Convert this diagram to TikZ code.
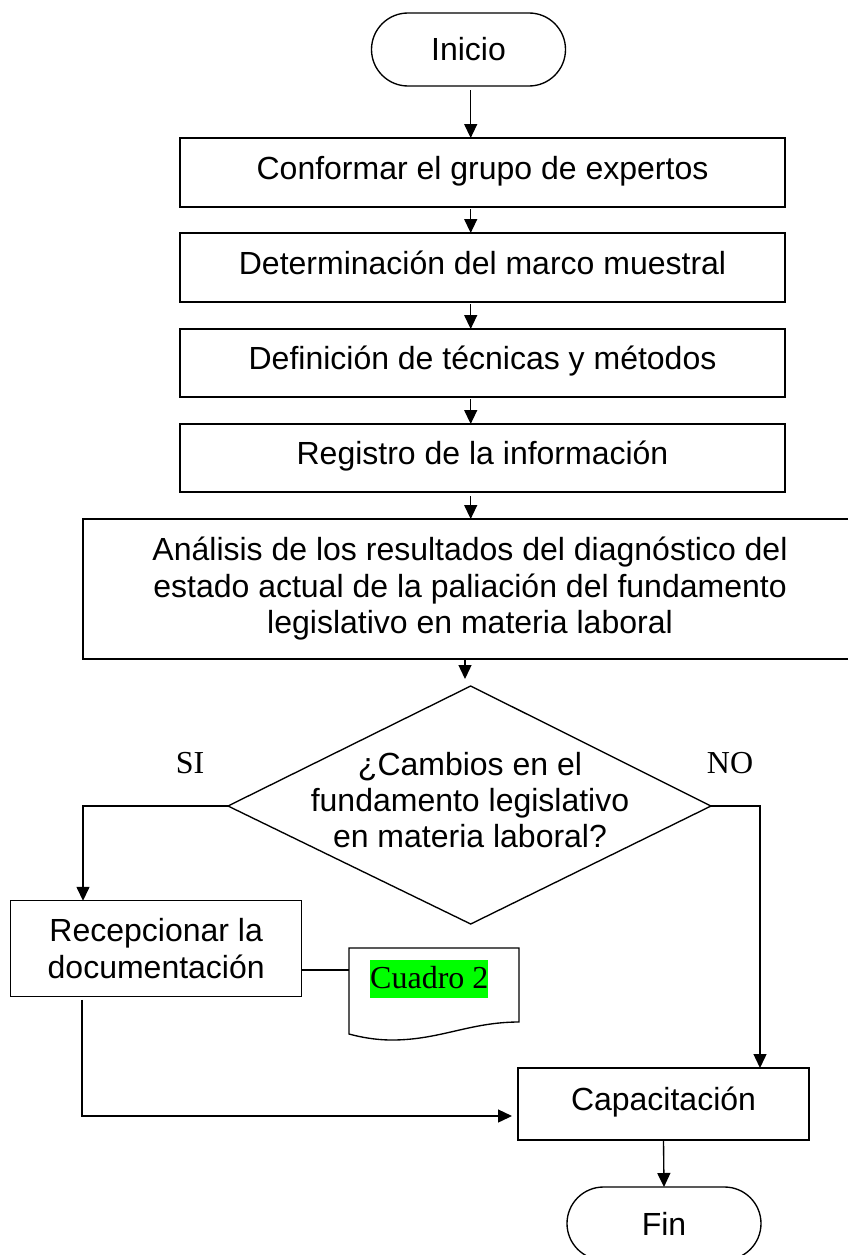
\documentclass[tikz,border=0pt]{standalone}
\usepackage{fontspec}
\setmainfont{Liberation Sans}
\newfontfamily\tnr{Liberation Serif}
\usetikzlibrary{arrows.meta}
\definecolor{hlgreen}{RGB}{0,255,0}
\begin{document}
\begin{tikzpicture}[x=1pt,y=-1pt,
  lw/.style={line width=1.35pt},
  box/.style={draw, lw, rectangle, inner sep=0pt, outer sep=0pt, align=center, font=\fontsize{32}{36.5}\selectfont},
  one/.style={text height=20pt, text depth=7pt},
  term/.style={box, rounded corners=36.5pt, minimum width=194pt, minimum height=73pt},
  arr/.style={lw, -{Triangle[length=14pt,width=13pt]}},
  lab/.style={font=\tnr\fontsize{32}{36}\selectfont, inner sep=0pt, anchor=base},
]
\useasboundingbox (0,0) rectangle (848,1255);
\fill[white] (0,0) rectangle (848,1255);
\coordinate (ax) at (470.7,0);
\coordinate (ax2) at (465,0);
\node[term] (inicio) at (468.5,49.5) {Inicio};
\node[box,one,minimum width=605pt,minimum height=69pt] (b1) at (482.5,172.5) {Conformar el grupo de expertos};
\node[box,one,minimum width=605pt,minimum height=69pt] (b2) at (482.5,267.5) {Determinación del marco muestral};
\node[box,one,minimum width=605pt,minimum height=68pt] (b3) at (482.5,363) {Definición de técnicas y métodos};
\node[box,one,minimum width=605pt,minimum height=68pt] (b4) at (482.5,458) {Registro de la información};
\node[box,minimum width=774pt,minimum height=140pt] (b5) at (470,589) {Análisis de los resultados del diagnóstico del\\estado actual de la paliación del fundamento\\legislativo en materia laboral};
% decision
\coordinate (dT) at (470.7,686);
\coordinate (dL) at (228,806);
\coordinate (dR) at (711,806);
\coordinate (dB) at (470.7,924);
\draw[lw] (dT) -- (dR) -- (dB) -- (dL) -- cycle;
\node[align=center, inner sep=0pt, font=\fontsize{32}{36}\selectfont] (q) at (470,800) {¿Cambios en el\\fundamento legislativo\\en materia laboral?};
\node[lab] (si) at (190,773) {SI};
\node[lab] (no) at (730,773) {NO};
\node[box,minimum width=291pt,minimum height=96pt] (rec) at (156.2,948.8) {Recepcionar la\\documentación};
% document
\coordinate (docW) at (349,970);
\draw[lw] (349,948) -- (519,948) -- (519,1022) .. controls (470,1022) and (440,1040) .. (392,1040) .. controls (375,1040) and (360,1037) .. (349,1034) -- cycle;
\node[fill=hlgreen, font=\tnr\fontsize{32}{36}\selectfont, inner sep=0pt, text height=28pt, text depth=10pt, anchor=base west] (cuadro) at (370,988) {Cuadro 2};
\node[box,one,minimum width=291pt,minimum height=72pt] (cap) at (663.5,1104) {Capacitación};
\node[term] (fin) at (664,1223.5) {Fin};
% connectors
\draw[arr, shorten <=4pt] (ax |- inicio.south) -- (ax |- b1.north);
\draw[arr, shorten <=2pt] (ax |- b1.south) -- (ax |- b2.north);
\draw[arr, shorten <=2pt] (ax |- b2.south) -- (ax |- b3.north);
\draw[arr, shorten <=2pt] (ax |- b3.south) -- (ax |- b4.north);
\draw[arr, shorten <=4pt] (ax |- b4.south) -- (ax |- b5.north);
\draw[arr, shorten >=7pt] (ax2 |- b5.south) -- (ax2 |- dT);
\coordinate (siX) at (83,806);
\draw[arr] (dL) -- (siX) -- (siX |- rec.north);
\coordinate (noX) at (760,806);
\draw[arr] (dR) -- (noX) -- (noX |- cap.north);
\draw[lw] (rec.east |- docW) -- (docW);
\coordinate (bl) at (82,1116);
\draw[arr, shorten <=3pt, shorten >=6pt] (bl |- rec.south) -- (bl) -- (bl -| cap.west);
\draw[arr] (cap.south) -- (fin.north);
\end{tikzpicture}
\end{document}
